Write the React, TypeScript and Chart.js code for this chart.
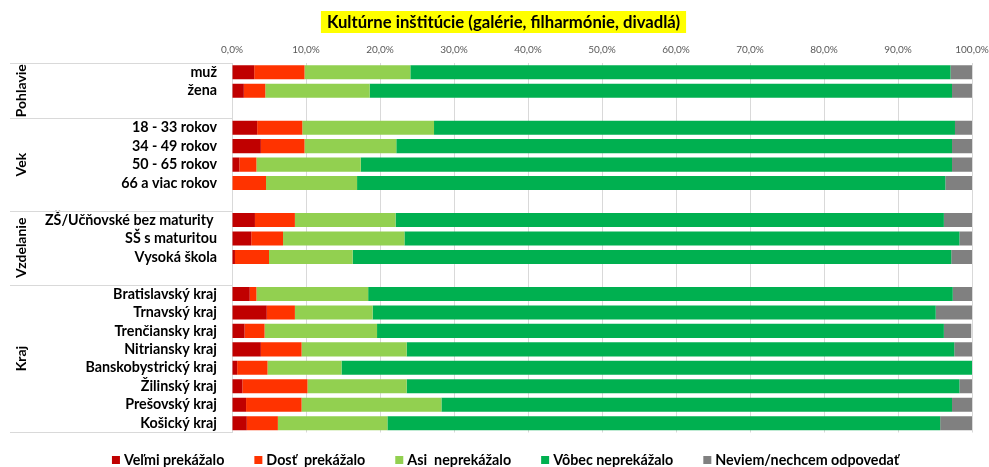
import React, { useEffect, useRef } from "react";
import { Chart, registerables } from "chart.js";

Chart.register(...registerables);

const titleText = "Kultúrne inštitúcie (galérie, filharmónie, divadlá)";

const categories = [
  "muž", "žena", "",
  "18 - 33 rokov", "34 - 49 rokov", "50 - 65 rokov", "66 a viac rokov", "",
  "ZŠ/Učňovské bez maturity ", "SŠ s maturitou", "Vysoká škola", "",
  "Bratislavský kraj", "Trnavský kraj", "Trenčiansky kraj", "Nitriansky kraj",
  "Banskobystrický kraj", "Žilinský kraj", "Prešovský kraj", "Košický kraj",
];

const groupNames = ["Pohlavie", "Vek", "Vzdelanie", "Kraj"];
const groupRowCounts = [3, 5, 4, 8];

const seriesNames = [
  "Veľmi prekážalo",
  "Dosť  prekážalo",
  "Asi  neprekážalo",
  "Vôbec neprekážalo",
  "Neviem/nechcem odpovedať",
];
const seriesColors = ["#C00000", "#FF3300", "#92D050", "#00B050", "#808080"];

const velmiPrekazalo = [3.0, 1.6, null, 3.4, 3.9, 1.0, 0.0, null, 3.1, 2.6, 0.4, null, 2.4, 4.7, 1.7, 3.9, 0.7, 1.4, 1.9, 2.0];
const dostPrekazalo = [6.8, 2.9, null, 6.1, 5.9, 2.3, 4.6, null, 5.4, 4.3, 4.6, null, 0.9, 3.8, 2.7, 5.5, 4.1, 8.8, 7.5, 4.2];
const asiNeprekazalo = [14.3, 14.1, null, 17.8, 12.4, 14.1, 12.3, null, 13.6, 16.4, 11.3, null, 15.1, 10.5, 15.2, 14.2, 10.0, 13.4, 18.9, 14.8];
const vobecNeprekazalo = [73.0, 78.7, null, 70.4, 75.1, 79.9, 79.5, null, 74.1, 75.0, 80.9, null, 79.0, 76.1, 76.6, 74.0, 85.2, 74.7, 69.0, 74.7];
const neviem = [2.9, 2.7, null, 2.3, 2.7, 2.7, 3.6, null, 3.8, 1.7, 2.8, null, 2.6, 4.9, 3.7, 2.4, 0.0, 1.7, 2.7, 4.3];

const seriesValues = [velmiPrekazalo, dostPrekazalo, asiNeprekazalo, vobecNeprekazalo, neviem];

const xTicksMin = 0;
const xTicksMax = 100;
const xTickStep = 10;

const FONT = "Lato, 'Noto Sans', sans-serif";

const titlePlugin = {
  id: "yellowTitle",
  afterDraw(chart: any) {
    const ctx = chart.ctx;
    ctx.save();
    ctx.font = `bold 16.7px ${FONT}`;
    const w = ctx.measureText(titleText).width;
    const cx = 503.5;
    const cy = 22;
    ctx.fillStyle = "#FFFF00";
    ctx.fillRect(cx - w / 2 - 6, cy - 11, w + 12, 22);
    ctx.fillStyle = "#000000";
    ctx.textAlign = "center";
    ctx.textBaseline = "middle";
    ctx.fillText(titleText, cx, cy + 1);
    ctx.restore();
  },
};

const groupPlugin = {
  id: "groupLabels",
  afterDraw(chart: any) {
    const ctx = chart.ctx;
    const y = chart.scales.y;
    const area = chart.chartArea;
    const step = y.getPixelForValue(1) - y.getPixelForValue(0);
    ctx.save();
    ctx.strokeStyle = "#D9D9D9";
    ctx.lineWidth = 1;
    let start = 0;
    groupRowCounts.forEach((n, i) => {
      const top = y.getPixelForValue(start) - step / 2;
      const bottom = y.getPixelForValue(start + n - 1) + step / 2;
      ctx.beginPath();
      ctx.moveTo(10, Math.round(top) + 0.5);
      ctx.lineTo(area.left, Math.round(top) + 0.5);
      if (i === groupRowCounts.length - 1) {
        ctx.moveTo(10, Math.round(bottom) - 0.5);
        ctx.lineTo(area.left, Math.round(bottom) - 0.5);
      }
      ctx.stroke();
      ctx.save();
      ctx.translate(21, (top + bottom) / 2);
      ctx.rotate(-Math.PI / 2);
      ctx.font = `bold 14px ${FONT}`;
      ctx.fillStyle = "#000000";
      ctx.textAlign = "center";
      ctx.textBaseline = "middle";
      ctx.fillText(groupNames[i], 0, 0);
      ctx.restore();
      start += n;
    });
    ctx.restore();
  },
};

const legendPlugin = {
  id: "customLegend",
  afterDraw(chart: any) {
    const ctx = chart.ctx;
    ctx.save();
    ctx.font = `bold 14.3px ${FONT}`;
    const box = 8;
    const gap = 4;
    const spacing = 30;
    const widths = seriesNames.map((s) => ctx.measureText(s).width);
    const total = widths.reduce((a, w) => a + box + gap + w, 0) + spacing * (seriesNames.length - 1);
    let x = 505.5 - total / 2;
    const cy = 460;
    ctx.textBaseline = "middle";
    ctx.textAlign = "left";
    seriesNames.forEach((s, i) => {
      ctx.fillStyle = seriesColors[i];
      ctx.fillRect(x, cy - box / 2, box, box);
      ctx.fillStyle = "#000000";
      ctx.fillText(s, x + box + gap, cy + 0.5);
      x += box + gap + widths[i] + spacing;
    });
    ctx.restore();
  },
};

export default function App() {
  const canvasRef = useRef<HTMLCanvasElement | null>(null);

  useEffect(() => {
    if (!canvasRef.current) return;
    const chart = new Chart(canvasRef.current, {
      type: "bar",
      data: {
        labels: categories,
        datasets: seriesNames.map((name, i) => ({
          label: name,
          data: seriesValues[i] as any,
          backgroundColor: seriesColors[i],
          borderWidth: 0,
          barPercentage: 0.76,
          categoryPercentage: 1,
        })),
      },
      options: {
        indexAxis: "y",
        animation: false,
        responsive: true,
        maintainAspectRatio: false,
        layout: { padding: { top: 40, left: 0, right: 17, bottom: 34.5 } },
        plugins: {
          legend: { display: false },
          title: { display: false },
          tooltip: { enabled: false },
        },
        scales: {
          x: {
            position: "top",
            stacked: true,
            min: xTicksMin,
            max: xTicksMax,
            grid: { color: "#D9D9D9", lineWidth: 1, drawTicks: false },
            border: { display: false },
            ticks: {
              stepSize: xTickStep,
              padding: 7,
              color: "#595959",
              font: { family: FONT, size: 10 },
              callback: (v: any) => Number(v).toFixed(1).replace(".", ",") + "%",
            },
            afterFit: (scale: any) => {
              scale.height = 23;
              scale.paddingLeft = 0;
              scale.paddingRight = 0;
            },
          },
          y: {
            stacked: true,
            grid: { display: false, drawTicks: false },
            border: { display: true, color: "#D9D9D9", width: 1 },
            ticks: {
              padding: 15,
              color: "#000000",
              autoSkip: false,
              font: { family: FONT, size: 14.3, weight: "bold" },
            },
            afterFit: (scale: any) => {
              scale.width = 232;
            },
          },
        },
      },
      plugins: [titlePlugin, groupPlugin, legendPlugin],
    });
    return () => chart.destroy();
  }, []);

  return (
    <div style={{ position: "fixed", left: 0, top: 0, width: 989, height: 467, background: "#fff" }}>
      <canvas ref={canvasRef} />
    </div>
  );
}
